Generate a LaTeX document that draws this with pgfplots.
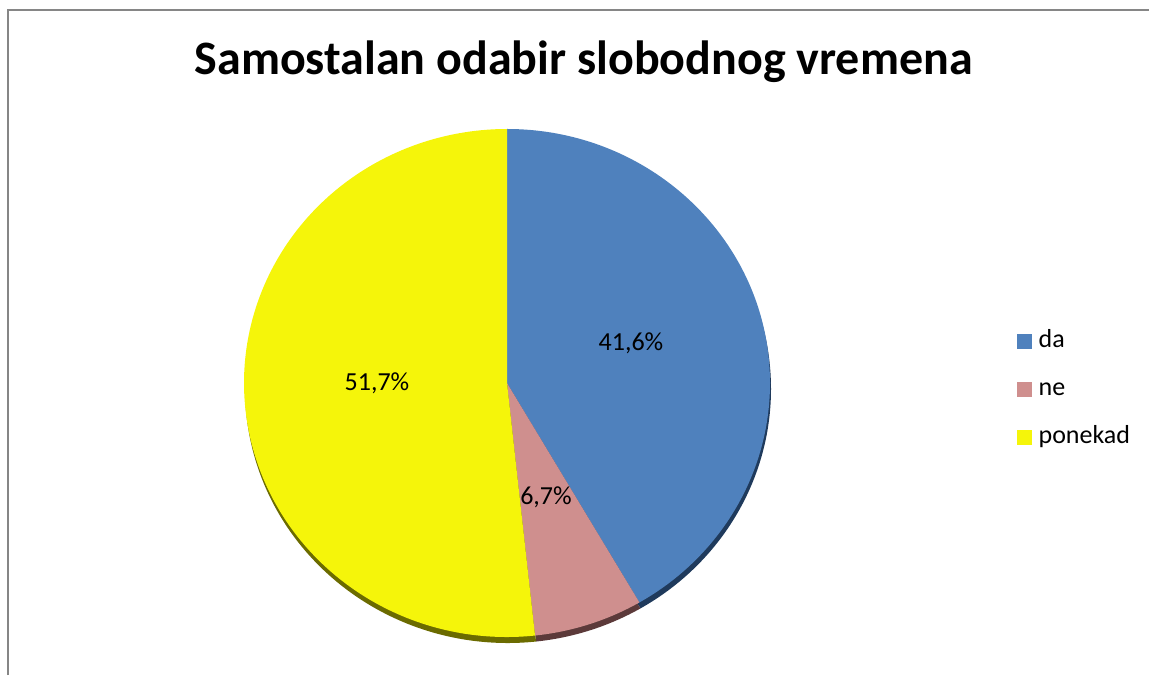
\documentclass[border=0pt]{standalone}
\usepackage{fontspec}
\setmainfont{Carlito}
\usepackage{pgfplots}
\usepackage{pgfplotstable}
\pgfplotsset{compat=1.18}
\definecolor{cda}{HTML}{4F81BD}
\definecolor{cne}{HTML}{CF8F8E}
\definecolor{cpo}{HTML}{F5F50A}
\definecolor{sda}{HTML}{1F3A5C}
\definecolor{sne}{HTML}{5C3A3A}
\definecolor{spo}{HTML}{6B6B00}
\definecolor{frame}{HTML}{868686}
\pgfplotstableread{
label value
da 41.6
ne 6.7
ponekad 51.7
}\piedata
\begin{document}
\begin{tikzpicture}
\pgfplotstablegetelem{0}{value}\of\piedata \let\vda\pgfplotsretval
\pgfplotstablegetelem{1}{value}\of\piedata \let\vne\pgfplotsretval
\pgfplotstablegetelem{2}{value}\of\piedata \let\vpo\pgfplotsretval
\pgfmathsetmacro{\aA}{90}
\pgfmathsetmacro{\aB}{90-3.6*\vda}
\pgfmathsetmacro{\aC}{\aB-3.6*\vne}
\pgfmathsetmacro{\aD}{\aC-3.6*\vpo}
\def\rx{263pt}
\def\ry{254pt}
\begin{axis}[
  x=1pt, y=1pt,
  xmin=0, xmax=1149, ymin=0, ymax=675,
  hide axis, clip=false,
  legend style={at={(axis cs:1017,346)}, anchor=north west, draw=none, fill=none,
    inner sep=0pt, font=\fontsize{26}{30}\selectfont,
    nodes={text height=18pt, text depth=6pt, inner sep=0pt, anchor=base west},
    row sep=24pt, column sep=7pt},
  legend cell align=left,
]
\coordinate (ll) at (axis cs:0,0);
\coordinate (ur) at (axis cs:1149,675);
% frame
\draw[frame, line width=2pt] (axis cs:8.3,0) -- (axis cs:8.3,665.3) -- (axis cs:1149,665.3);
% shadow (3D rim)
\begin{scope}[shift={(1pt,-6pt)}]
\fill[sda] (axis cs:507,292) -- ++(canvas polar cs:angle=\aA, x radius=\rx, y radius=\ry) arc[start angle=\aA, end angle=\aB, x radius=\rx, y radius=\ry] -- cycle;
\fill[sne] (axis cs:507,292) -- ++(canvas polar cs:angle=\aB, x radius=\rx, y radius=\ry) arc[start angle=\aB, end angle=\aC, x radius=\rx, y radius=\ry] -- cycle;
\fill[spo] (axis cs:507,292) -- ++(canvas polar cs:angle=\aC, x radius=\rx, y radius=\ry) arc[start angle=\aC, end angle=\aD, x radius=\rx, y radius=\ry] -- cycle;
\end{scope}
\fill[cda] (axis cs:507,292) -- ++(canvas polar cs:angle=\aA, x radius=\rx, y radius=\ry) arc[start angle=\aA, end angle=\aB, x radius=\rx, y radius=\ry] -- cycle;
\fill[cne] (axis cs:507,292) -- ++(canvas polar cs:angle=\aB, x radius=\rx, y radius=\ry) arc[start angle=\aB, end angle=\aC, x radius=\rx, y radius=\ry] -- cycle;
\fill[cpo] (axis cs:507,292) -- ++(canvas polar cs:angle=\aC, x radius=\rx, y radius=\ry) arc[start angle=\aC, end angle=\aD, x radius=\rx, y radius=\ry] -- cycle;
% labels
\node[font=\fontsize{26}{30}\selectfont, inner sep=0pt] at (axis cs:631,332) {41,6\%};
\node[font=\fontsize{26}{30}\selectfont, inner sep=0pt] at (axis cs:546,178) {6,7\%};
\node[font=\fontsize{26}{30}\selectfont, inner sep=0pt] at (axis cs:377,292) {51,7\%};
% title
\node[font=\bfseries\fontsize{48}{56}\selectfont, anchor=base, inner sep=0pt] at (axis cs:583.5,600) {Samostalan odabir slobodnog vremena};
% legend
\addlegendimage{legend image code/.code={\fill[cda] (0pt,-1pt) rectangle (14pt,13pt);}}
\addlegendentry{da}
\addlegendimage{legend image code/.code={\fill[cne] (0pt,-1pt) rectangle (14pt,13pt);}}
\addlegendentry{ne}
\addlegendimage{legend image code/.code={\fill[cpo] (0pt,-1pt) rectangle (14pt,13pt);}}
\addlegendentry{ponekad}
\end{axis}
\pgfresetboundingbox
\path (ll) rectangle (ur);
\end{tikzpicture}
\end{document}
